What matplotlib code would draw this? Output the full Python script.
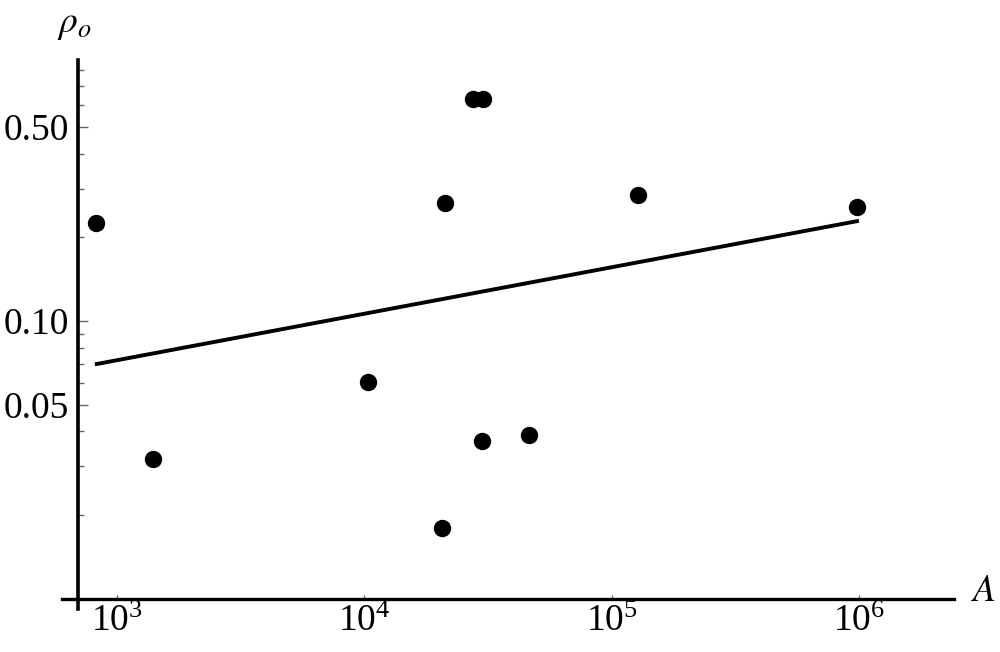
import matplotlib.pyplot as plt
from matplotlib.ticker import FixedLocator, FixedFormatter, LogFormatterMathtext
import numpy as np

plt.rcParams['font.family'] = ['Liberation Serif', 'DejaVu Serif']
plt.rcParams['mathtext.fontset'] = 'stix'

# data
A_vals = [820, 1400, 10300, 21150, 20560, 27400, 30000, 29900, 46200, 127000, 975000]
rho_vals = [0.225, 0.0319, 0.0604, 0.2655, 0.0179, 0.630, 0.630, 0.0370, 0.0388, 0.284, 0.258]

# fitted power law end points
fit_A = [815, 995000]
fit_rho = [0.0698, 0.2297]

ytick_major = [0.05, 0.10, 0.50]
ytick_labels = ['0.05', '0.10', '0.50']
ytick_minor = [0.01, 0.02, 0.03, 0.04, 0.06, 0.07, 0.08, 0.09,
               0.2, 0.3, 0.4, 0.6, 0.7, 0.8]
xtick_major = [1e3, 1e4, 1e5, 1e6]

fig = plt.figure(figsize=(10, 6.52), dpi=100)
ax = fig.add_axes([0.062, 1 - 609/652, 0.954 - 0.062, (609 - 60)/652])

ax.plot(fit_A, fit_rho, color='black', lw=2.8, solid_capstyle='butt', zorder=2)
ax.plot(A_vals, rho_vals, 'o', color='black', ms=11.5, zorder=3)

ax.set_xscale('log')
ax.set_yscale('log')
ax.set_xlim(600, 2.41e6)
ax.set_ylim(0.00917, 0.872)

ax.spines['top'].set_visible(False)
ax.spines['right'].set_visible(False)
ax.spines['left'].set_position(('data', 695))
ax.spines['bottom'].set_position(('data', 0.01))
ax.spines['left'].set_linewidth(2.6)
ax.spines['bottom'].set_linewidth(2.4)

ax.yaxis.set_major_locator(FixedLocator(ytick_major))
ax.yaxis.set_major_formatter(FixedFormatter(ytick_labels))
ax.yaxis.set_minor_locator(FixedLocator(ytick_minor))
ax.yaxis.set_minor_formatter(FixedFormatter([]))
ax.xaxis.set_major_locator(FixedLocator(xtick_major))
ax.xaxis.set_major_formatter(LogFormatterMathtext())
ax.xaxis.set_minor_locator(FixedLocator([]))

ax.tick_params(axis='y', which='major', direction='in', length=7, width=1,
               color='#666666', labelsize=27, pad=6)
ax.tick_params(axis='y', which='minor', direction='in', length=4, width=1,
               color='#666666')
ax.tick_params(axis='x', which='major', direction='in', length=3, width=1,
               color='#666666', labelsize=27, pad=4)

fig.text(0.057, 1 - 42/652, r'$\rho_o$', fontsize=27, ha='left', va='bottom')
fig.text(0.971, 1 - 609/652, r'$A$', fontsize=27, ha='left', va='bottom')

plt.savefig('out.png', dpi=100)
